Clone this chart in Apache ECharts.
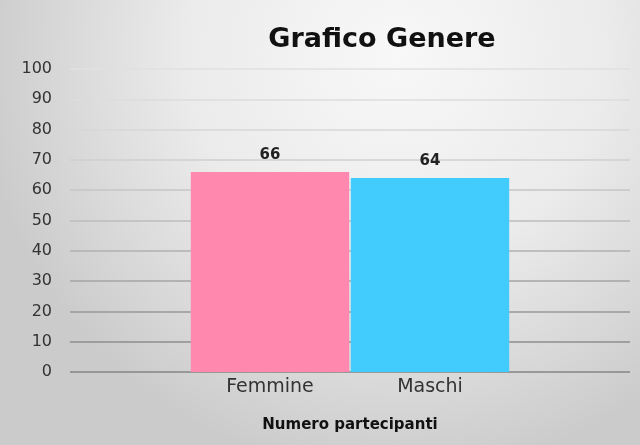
<!DOCTYPE html>
<html>
<head>
<meta charset="utf-8">
<script src="https://cdn.jsdelivr.net/npm/echarts@6/dist/echarts.min.js"></script>
<style>
  html, body { margin: 0; padding: 0; }
  #chart { width: 640px; height: 445px; }
</style>
</head>
<body>
<div id="chart"></div>
<script>
// dati del grafico
const categorie = ['Femmine', 'Maschi'];
const valori = [66, 64];
const colori = ['#ff88ae', '#42cbfd'];
const titolo = 'Grafico Genere';
const nomeAsse = 'Numero partecipanti';
const yMin = 0, yMax = 100, yPasso = 10;

// linee della griglia: piu' chiare in alto, piu' scure in basso
const coloriLinee = ['#858585', '#8e8e8e', '#989898', '#a4a4a4', '#b0b0b0',
  '#bcbcbc', '#c6c6c6', '#cfcfcf', '#d7d7d7', '#dcdcdc', '#e0e0e0'];

const font = 'DejaVu Sans';

const chart = echarts.init(document.getElementById('chart'));

const option = {
  backgroundColor: {
    type: 'radial', x: 0.62, y: 0.12, r: 0.95,
    colorStops: [
      { offset: 0, color: '#f8f8f8' },
      { offset: 0.5, color: '#ebebeb' },
      { offset: 1, color: '#cbcbcb' }
    ]
  },
  title: {
    text: titolo,
    left: 377, top: 21, textAlign: 'center',
    textStyle: { fontFamily: font, fontSize: 27, fontWeight: 'bold', color: '#111' }
  },
  grid: [
    // griglia larga: solo linee e etichette dell'asse y
    { left: 70, right: 10, top: 69, bottom: 73 },
    // griglia stretta: le barre
    { left: 190, width: 320, top: 69, bottom: 73 }
  ],
  xAxis: [
    { gridIndex: 0, type: 'category', data: [''], show: false },
    {
      gridIndex: 1, type: 'category', data: categorie,
      axisLine: { show: false }, axisTick: { show: false },
      axisLabel: { fontFamily: font, fontSize: 19, color: '#333', margin: 6 },
      name: nomeAsse, nameLocation: 'middle', nameGap: 46,
      nameTextStyle: { fontFamily: font, fontSize: 15, fontWeight: 'bold', color: '#111' }
    }
  ],
  yAxis: [
    {
      gridIndex: 0, type: 'value', min: yMin, max: yMax, interval: yPasso,
      axisLine: { show: false }, axisTick: { show: false },
      axisLabel: { fontFamily: font, fontSize: 16, color: '#333', margin: 18 },
      splitLine: { lineStyle: { color: coloriLinee, width: 1.5 } }
    },
    { gridIndex: 1, type: 'value', min: yMin, max: yMax, interval: yPasso, show: false }
  ],
  series: [{
    type: 'bar',
    xAxisIndex: 1, yAxisIndex: 1,
    data: valori.map((v, i) => ({ value: v, itemStyle: { color: colori[i] } })),
    barWidth: '99%',
    label: {
      show: true, position: 'top', distance: 9,
      fontFamily: font, fontSize: 15, fontWeight: 'bold', color: '#222'
    }
  }]
};

chart.setOption(option);
</script>
</body>
</html>
